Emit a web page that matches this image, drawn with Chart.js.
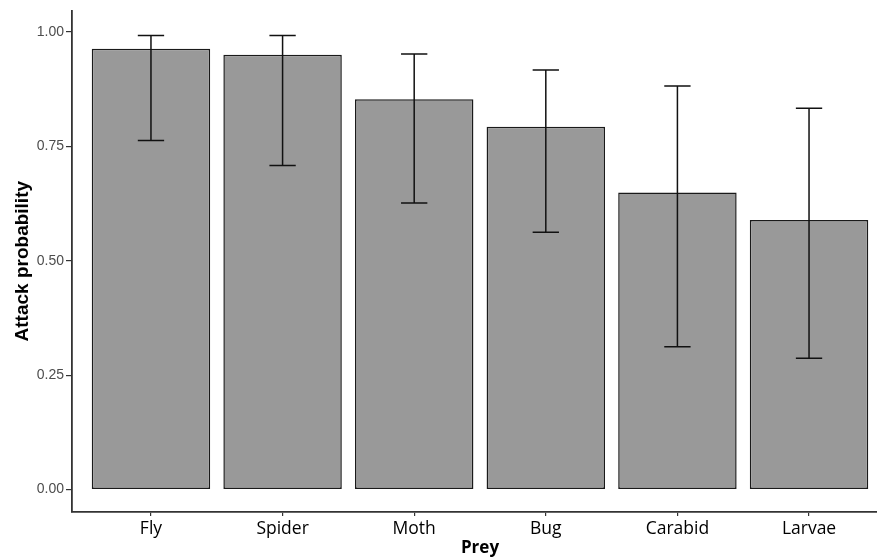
<!DOCTYPE html>
<html>
<head>
<meta charset="utf-8">
<script src="https://cdn.jsdelivr.net/npm/chart.js@4.4.1/dist/chart.umd.min.js"></script>
<style>
  html, body { margin: 0; padding: 0; background: #fff; overflow: hidden; }
  #wrap { width: 900px; height: 558px; }
</style>
</head>
<body>
<div id="wrap"><canvas id="preyChart" width="900" height="558"></canvas></div>
<script>
// values
const preyNames = ['Fly', 'Spider', 'Moth', 'Bug', 'Carabid', 'Larvae'];
const attackProb = [0.963, 0.950, 0.853, 0.793, 0.649, 0.589];
const lowerCI = [0.763, 0.708, 0.626, 0.562, 0.312, 0.287];
const upperCI = [0.992, 0.992, 0.952, 0.917, 0.882, 0.833];
const yTicks = [0, 0.25, 0.5, 0.75, 1];

const axisColor = '#333333';

// error bars drawn on top of the bars, through the chart scales
const errorBars = {
  id: 'errorBars',
  afterDatasetsDraw(chart) {
    const { ctx, scales: { x, y } } = chart;
    ctx.save();
    ctx.strokeStyle = '#111';
    ctx.lineWidth = 1.5;
    preyNames.forEach((name, i) => {
      const cx = x.getPixelForValue(i + 1);
      const half = x.getPixelForValue(i + 1.1) - cx;
      const yl = y.getPixelForValue(lowerCI[i]);
      const yu = y.getPixelForValue(upperCI[i]);
      ctx.beginPath();
      ctx.moveTo(cx, yu); ctx.lineTo(cx, yl);
      ctx.moveTo(cx - half, yu); ctx.lineTo(cx + half, yu);
      ctx.moveTo(cx - half, yl); ctx.lineTo(cx + half, yl);
      ctx.stroke();
    });
    ctx.restore();
  }
};

new Chart('preyChart', {
  type: 'bar',
  data: {
    datasets: [{
      label: 'Attack probability',
      data: preyNames.map((n, i) => ({ x: i + 1, y: attackProb[i] })),
      backgroundColor: '#999999',
      borderColor: '#1a1a1a',
      borderWidth: 1.5,
      borderSkipped: false,
      barPercentage: 0.9,
      categoryPercentage: 1.0,
    }],
  },
  options: {
    responsive: false,
    animation: false,
    layout: { padding: { top: 7, right: 12, bottom: 0, left: 0 } },
    plugins: {
      legend: { display: false },
      tooltip: { enabled: false },
    },
    scales: {
      x: {
        type: 'linear',
        offset: false,
        min: 0.4,
        max: 6.6,
        afterBuildTicks: (scale) => {
          scale.ticks = preyNames.map((n, i) => ({ value: i + 1 }));
        },
        afterFit: (scale) => { scale.height = 46; },
        grid: { offset: false, drawOnChartArea: false, drawTicks: true, tickLength: 4, color: axisColor, lineWidth: 1.2 },
        border: { display: true, color: axisColor, width: 1.8 },
        ticks: {
          color: '#000',
          padding: 3,
          maxRotation: 0,
          font: { family: 'Open Sans', size: 17.5 },
          callback: (value) => preyNames[Math.round(value) - 1] || '',
        },
        title: {
          display: true,
          text: 'Prey',
          color: '#000',
          padding: { top: 0, bottom: 0 },
          font: { family: 'Open Sans', size: 17, weight: 'bold' },
        },
      },
      y: {
        min: -0.049,
        max: 1.047,
        afterBuildTicks: (scale) => {
          scale.ticks = yTicks.map((v) => ({ value: v }));
        },
        afterFit: (scale) => { scale.width = 72; },
        grid: { drawOnChartArea: false, drawTicks: true, tickLength: 6, color: axisColor, lineWidth: 1.2 },
        border: { display: true, color: axisColor, width: 1.8 },
        ticks: {
          color: '#4d4d4d',
          padding: 2,
          font: { family: 'Liberation Sans', size: 14 },
          callback: (value) => value.toFixed(2),
        },
        title: {
          display: true,
          text: 'Attack probability',
          color: '#000',
          padding: { top: 11, bottom: 0 },
          font: { family: 'Liberation Sans', size: 19, weight: 'bold' },
        },
      },
    },
  },
  plugins: [errorBars],
});
</script>
</body>
</html>
